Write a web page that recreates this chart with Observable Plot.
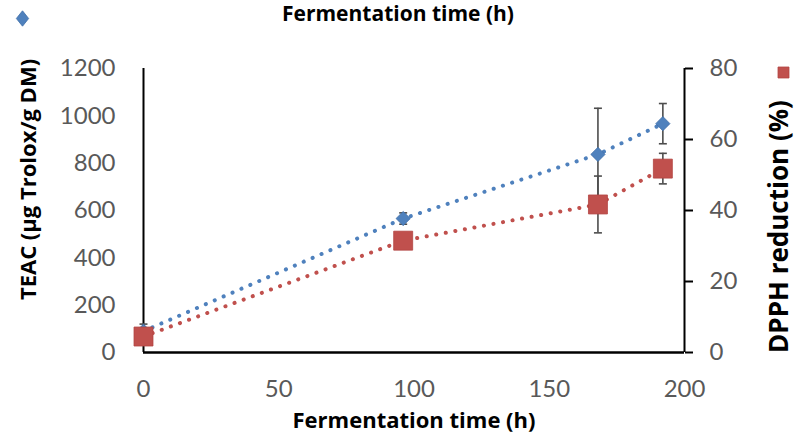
<!DOCTYPE html>
<html>
<head>
<meta charset="utf-8">
<script src="https://cdn.jsdelivr.net/npm/d3@7"></script>
<script src="https://cdn.jsdelivr.net/npm/@observablehq/plot@0.6"></script>
<style>
  html, body { margin: 0; padding: 0; background: #fff; }
  #chart { width: 796px; height: 436px; }
</style>
</head>
<body>
<div id="chart"></div>
<script>
// Data
const hours = [0, 96, 168, 192];
const teac = [90, 566, 837, 967];           // µg Trolox/g DM (left axis)
const teacErr = [30, 24, 195, 85];
const dpph = [4.5, 31.5, 41.7, 51.8];       // % (right axis)
const dpphErr = [1, 1, 8, 4.3];

const xTicks = [0, 50, 100, 150, 200];
const leftTicks = [0, 200, 400, 600, 800, 1000, 1200];
const rightTicks = [0, 20, 40, 60, 80];

const titleX = "Fermentation time (h)";
const titleLeft = "TEAC (µg Trolox/g DM)";
const titleRight = "DPPH reduction (%)";

// right axis maps 0..80 onto the left 0..1200 scale
const k = 1200 / 80;

const blueRows = hours.map((h, i) => ({h, v: teac[i], lo: teac[i] - teacErr[i], hi: teac[i] + teacErr[i]}));
const redRows = hours.map((h, i) => ({h, v: dpph[i] * k, lo: (dpph[i] - dpphErr[i]) * k, hi: (dpph[i] + dpphErr[i]) * k}));

const BLUE = "#4F81BD", RED = "#C0504D", ERR = "#4d4d4d";
const FONT = "Lato, 'Open Sans', sans-serif";
const TFONT = "'Open Sans', Lato, sans-serif";

const capSymbol = {draw(ctx, size) { const w = Math.sqrt(size); ctx.moveTo(-w / 2, 0); ctx.lineTo(w / 2, 0); }};
const tallDiamond = {draw(ctx, size) { const h = Math.sqrt(size) * 0.62, w = h * 0.8; ctx.moveTo(0, -h); ctx.lineTo(w, 0); ctx.lineTo(0, h); ctx.lineTo(-w, 0); ctx.closePath(); }};

function errorMarks(rows) {
  return [
    Plot.ruleX(rows, {x: "h", y1: "lo", y2: "hi", stroke: ERR, strokeWidth: 1.6}),
    Plot.dot(rows, {x: "h", y: "lo", symbol: capSymbol, r: 4.5, stroke: ERR, strokeWidth: 1.6, fill: "none"}),
    Plot.dot(rows, {x: "h", y: "hi", symbol: capSymbol, r: 4.5, stroke: ERR, strokeWidth: 1.6, fill: "none"})
  ];
}

const titleStyle = {textAnchor: "middle", lineAnchor: "middle", fontWeight: "bold", fill: "#000", fontFamily: TFONT};

const chart = Plot.plot({
  width: 796,
  height: 436,
  marginLeft: 143,
  marginRight: 112,
  marginTop: 68,
  marginBottom: 84,
  style: {fontFamily: FONT, background: "#fff", overflow: "visible"},
  x: {domain: [0, 200]},
  y: {domain: [0, 1200]},
  marks: [
    Plot.axisX({ticks: xTicks, tickFormat: d => String(d), tickSize: 0, tickPadding: 27, fontSize: 24, fill: "#595959", label: null}),
    Plot.axisY({anchor: "left", ticks: leftTicks, tickFormat: d => String(d), tickSize: 0, tickPadding: 28, fontSize: 24, fill: "#595959", label: null}),
    Plot.axisY({anchor: "right", ticks: rightTicks.map(d => d * k), tickFormat: d => String(d / k), tickSize: 8, tickPadding: 17, fontSize: 24, fill: "#595959", stroke: "#000", strokeWidth: 2, label: null}),
    Plot.ruleX([0], {stroke: "#000", strokeWidth: 2}),
    Plot.ruleX([200], {stroke: "#000", strokeWidth: 2}),
    Plot.ruleY([0], {stroke: "#000", strokeWidth: 2.5}),
    ...errorMarks(blueRows),
    ...errorMarks(redRows),
    Plot.line(blueRows, {x: "h", y: "v", stroke: BLUE, strokeWidth: 4, strokeDasharray: "0.1 9.6", strokeLinecap: "round"}),
    Plot.line(redRows, {x: "h", y: "v", stroke: RED, strokeWidth: 4, strokeDasharray: "0.1 9.6", strokeLinecap: "round"}),
    Plot.dot(blueRows, {x: "h", y: "v", symbol: "diamond2", r: 6.4, fill: BLUE, stroke: "#3f6fa8", strokeWidth: 0.8}),
    Plot.dot(redRows, {x: "h", y: "v", symbol: "square", r: 10.7, fill: RED, stroke: "#b24441", strokeWidth: 0.8}),
    // titles
    Plot.text([titleX], {frameAnchor: "top", dx: -16, dy: -54, fontSize: 21, ...titleStyle}),
    Plot.text([titleX], {frameAnchor: "bottom", dy: 68, fontSize: 22, ...titleStyle}),
    Plot.text([titleLeft], {frameAnchor: "left", rotate: -90, dx: -115, dy: -31, fontSize: 22, ...titleStyle}),
    Plot.text([titleRight], {frameAnchor: "right", rotate: -90, dx: 95, dy: 16, fontSize: 26, ...titleStyle}),
    // legend symbols
    Plot.dot([0], {frameAnchor: "top-left", dx: -121, dy: -50, symbol: tallDiamond, r: 7, fill: BLUE, stroke: "#3f6fa8", strokeWidth: 0.8}),
    Plot.dot([0], {frameAnchor: "top-right", dx: 99, dy: 4, symbol: "square", r: 6.2, fill: RED, stroke: "#b24441", strokeWidth: 0.8})
  ]
});

document.getElementById("chart").appendChild(chart);
</script>
</body>
</html>
